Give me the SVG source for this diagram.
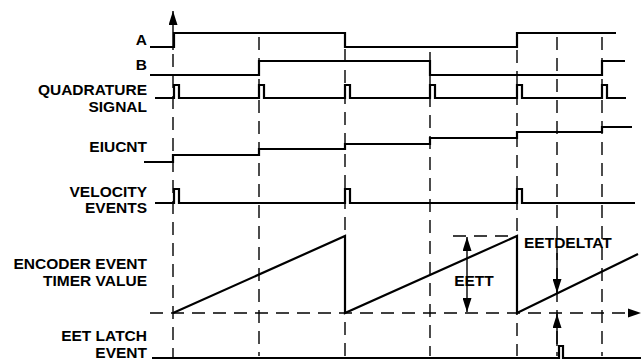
<svg xmlns="http://www.w3.org/2000/svg" width="641" height="360" viewBox="0 0 641 360">
<style>
.lbl{font-family:"Liberation Sans",Arial,Helvetica,sans-serif;font-weight:bold;font-size:15.5px;fill:#000;text-anchor:end}
.ann{font-family:"Liberation Sans",Arial,Helvetica,sans-serif;font-weight:bold;font-size:15.5px;fill:#000}
.sig{fill:none;stroke:#000;stroke-width:2.2;stroke-linejoin:miter;stroke-linecap:butt}
.dash{fill:none;stroke:#000;stroke-width:1.4;stroke-dasharray:13,8}
.ax{fill:none;stroke:#000;stroke-width:1.4}
</style>
<defs>
<marker id="ah" viewBox="0 0 14 9" refX="14" refY="4.5" markerWidth="14" markerHeight="9" markerUnits="userSpaceOnUse" orient="auto-start-reverse"><path d="M0,0 L14,4.5 L0,9 Z" fill="#000"/></marker>
</defs>
<rect width="641" height="360" fill="#fff"/>
<g id="grid">
<path class="ax" d="M173,50 V11" marker-end="url(#ah)"/>
<path class="dash" d="M173,54 V358"/>
<path class="dash" d="M259,37 V356"/>
<path class="dash" d="M345,49 V356"/>
<path class="dash" d="M430,52 V356"/>
<path class="dash" d="M517,50 V356"/>
<path class="dash" d="M557,37 V356"/>
<path class="dash" d="M602,37 V356"/>
<path class="dash" d="M150,313 H628"/>
<polygon points="628,308.5 641,313 628,317.5" fill="#000"/>
<path class="dash" d="M453,236 H517"/>
</g>
<g id="labels">
<text class="lbl" x="147" y="45">A</text>
<text class="lbl" x="147" y="70">B</text>
<text class="lbl" x="147" y="95">QUADRATURE</text>
<text class="lbl" x="147" y="112">SIGNAL</text>
<text class="lbl" x="147" y="152">EIUCNT</text>
<text class="lbl" x="147" y="197">VELOCITY</text>
<text class="lbl" x="147" y="213">EVENTS</text>
<text class="lbl" x="147" y="269">ENCODER EVENT</text>
<text class="lbl" x="147" y="286">TIMER VALUE</text>
<text class="lbl" x="147" y="341">EET LATCH</text>
<text class="lbl" x="147" y="358">EVENT</text>
</g>
<g id="signal-a"><path class="sig" d="M150,47 H174 V33 H345 V47 H517 V33 H616"/></g>
<g id="signal-b"><path class="sig" d="M150,75 H259 V61 H430 V75 H602 V61 H625"/></g>
<g id="signal-quadrature"><path class="sig" d="M155,98 H174 V85 H179 V98 H259 V85 H264 V98 H345 V85 H350 V98 H430 V85 H435 V98 H517 V85 H522 V98 H602 V85 H607 V98 H626"/></g>
<g id="signal-eiucnt"><path class="sig" d="M144,162 H173 V155 H259 V149 H345 V144 H430 V138 H517 V132 H602 V127 H632"/></g>
<g id="signal-velocity"><path class="sig" d="M155,203 H174 V189 H179 V203 H345 V189 H350 V203 H517 V189 H522 V203 H635"/></g>
<g id="signal-eet"><path class="sig" d="M173,313 L345,236 V313 L517,236 V313 L638,254"/></g>
<g id="signal-latch"><path class="sig" d="M152,358 H559 V346 H563 V358 H641"/></g>
<g id="connectors">
<path class="ax" d="M467,237 V312" marker-start="url(#ah)" marker-end="url(#ah)"/>
<path class="ax" d="M557,253 V293" marker-end="url(#ah)"/>
<path class="ax" d="M557,346 V314" marker-end="url(#ah)"/>
</g>
<g id="annotations">
<text class="ann" x="474" y="286" text-anchor="middle">EETT</text>
<text class="ann" x="524" y="248">EETDELTAT</text>
</g>
</svg>
